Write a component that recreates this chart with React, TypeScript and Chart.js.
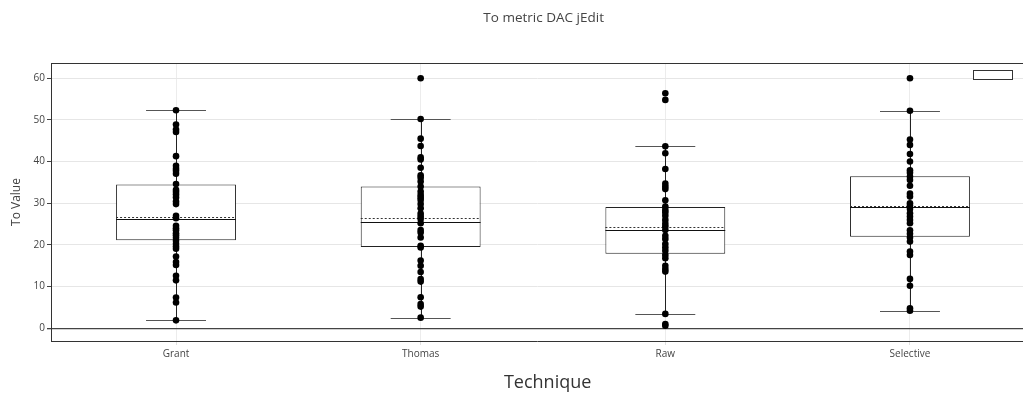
import React, { useEffect, useRef } from 'react';
import { Chart, registerables } from 'chart.js';

Chart.register(...registerables);

// Categories along the x axis
const techniques = ['Grant', 'Thomas', 'Raw', 'Selective'];

// Observed "To" values for each technique
const grantValues = [52.3, 48.9, 47.7, 47.1, 41.3, 39.0, 38.3, 37.8, 37.1, 34.6, 33.2, 32.7, 32.1, 31.4, 30.4, 29.8, 27.0, 26.4, 24.6, 24.0, 23.5, 22.8, 22.3, 21.7, 21.0, 20.3, 19.6, 19.1, 17.2, 15.9, 15.2, 12.6, 11.5, 7.4, 6.2, 1.9];
const thomasValues = [60.0, 50.2, 45.5, 43.75, 41.0, 40.5, 38.5, 36.7, 36.1, 35.2, 34.0, 32.8, 32.0, 31.4, 30.8, 29.8, 28.8, 27.5, 26.8, 26.2, 25.2, 23.6, 23.0, 21.8, 19.8, 19.4, 16.25, 15.0, 13.5, 11.8, 11.2, 7.45, 5.8, 5.2, 2.55];
const rawValues = [56.4, 54.8, 43.65, 42.0, 38.2, 34.7, 34.0, 33.4, 30.7, 29.2, 28.4, 27.8, 27.0, 26.0, 25.1, 24.4, 23.6, 22.2, 21.4, 20.2, 19.4, 18.6, 17.6, 16.8, 15.0, 14.2, 13.6, 3.45, 1.0, 0.6];
const selectiveValues = [60.0, 52.2, 45.3, 44.0, 41.8, 40.0, 37.9, 37.3, 36.4, 35.6, 34.2, 32.3, 31.6, 30.0, 29.4, 28.6, 27.6, 26.8, 26.0, 25.2, 23.5, 22.7, 21.8, 20.8, 18.4, 17.6, 11.85, 10.2, 4.8, 4.2];

// Box statistics per technique
const lowerWhisker = [1.9, 2.55, 3.45, 4.2];
const firstQuartile = [21.15, 19.5, 17.9, 21.95];
const medianValues = [26.2, 25.55, 23.6, 29.0];
const meanValues = [26.75, 26.35, 24.3, 29.3];
const thirdQuartile = [34.5, 34.0, 29.1, 36.45];
const upperWhisker = [52.3, 50.2, 43.65, 52.2];

// Axis ticks
const yTickValues = [0, 10, 20, 30, 40, 50, 60];
const xTickValues = [0, 1, 2, 3];

const chartTitle = 'To metric DAC jEdit';
const xAxisTitle = 'Technique';
const yAxisTitle = 'To Value';

const FONT = '"Open Sans", "Noto Sans", sans-serif';
const INK = '#444';

const allSeries = [grantValues, thomasValues, rawValues, selectiveValues];

// Draws whiskers, medians and means right after the boxes, below the points.
const boxDetailPlugin = {
  id: 'boxDetail',
  afterDatasetDraw(chart: any, args: any) {
    if (args.index !== 0) return;
    const { ctx } = chart;
    const xs = chart.scales.x;
    const ys = chart.scales.y;
    const meta = chart.getDatasetMeta(0);
    ctx.save();
    techniques.forEach((_, i) => {
      const bar = meta.data[i];
      const half = bar.width / 2;
      const cx = xs.getPixelForValue(i);
      const capHalf = half / 2;
      const px = Math.round(cx) + 0.5;
      // whisker stems
      ctx.strokeStyle = '#222';
      ctx.lineWidth = 1;
      ctx.setLineDash([]);
      ctx.beginPath();
      ctx.moveTo(px, ys.getPixelForValue(thirdQuartile[i]));
      ctx.lineTo(px, ys.getPixelForValue(upperWhisker[i]));
      ctx.moveTo(px, ys.getPixelForValue(firstQuartile[i]));
      ctx.lineTo(px, ys.getPixelForValue(lowerWhisker[i]));
      ctx.stroke();
      // whisker caps
      ctx.strokeStyle = '#555';
      ctx.beginPath();
      [upperWhisker[i], lowerWhisker[i]].forEach((v) => {
        const y = Math.round(ys.getPixelForValue(v)) + 0.5;
        ctx.moveTo(cx - capHalf, y);
        ctx.lineTo(cx + capHalf, y);
      });
      ctx.stroke();
      // median
      ctx.strokeStyle = '#111';
      ctx.beginPath();
      const my = Math.round(ys.getPixelForValue(medianValues[i])) + 0.5;
      ctx.moveTo(cx - half, my);
      ctx.lineTo(cx + half, my);
      ctx.stroke();
      // mean (dotted)
      ctx.strokeStyle = '#333';
      ctx.setLineDash([2, 2]);
      ctx.beginPath();
      const mny = Math.round(ys.getPixelForValue(meanValues[i])) + 0.5;
      ctx.moveTo(cx - half, mny);
      ctx.lineTo(cx + half, mny);
      ctx.stroke();
    });
    ctx.restore();
  },
};

// Titles, top frame line and the legend swatch.
const decorPlugin = {
  id: 'decor',
  afterDraw(chart: any) {
    const { ctx, chartArea } = chart;
    const xs = chart.scales.x;
    const domainCenter = (chartArea.left + xs.getPixelForValue(3.5)) / 2;
    ctx.save();
    ctx.fillStyle = INK;
    ctx.textAlign = 'center';
    ctx.textBaseline = 'middle';
    ctx.font = `13.5px ${FONT}`;
    ctx.fillText(chartTitle, domainCenter + 2, 18);
    ctx.font = `18px ${FONT}`;
    ctx.fillStyle = '#333';
    ctx.fillText(xAxisTitle, domainCenter + 6, 383);
    // top frame
    ctx.strokeStyle = '#333';
    ctx.lineWidth = 1;
    ctx.beginPath();
    ctx.moveTo(chartArea.left, Math.round(chartArea.top) + 0.5);
    ctx.lineTo(chartArea.right, Math.round(chartArea.top) + 0.5);
    ctx.stroke();
    // legend swatch
    ctx.fillStyle = '#fff';
    ctx.fillRect(chartArea.right - 50, chartArea.top + 7.5, 39, 9);
    ctx.strokeRect(chartArea.right - 49.5, chartArea.top + 7.5, 39, 9);
    ctx.restore();
  },
};

export default function App() {
  const canvasRef = useRef<HTMLCanvasElement | null>(null);

  useEffect(() => {
    const canvas = canvasRef.current;
    if (!canvas) return;

    const points: { x: number; y: number }[] = [];
    allSeries.forEach((series, i) => series.forEach((v) => points.push({ x: i, y: v })));

    const chart = new Chart(canvas, {
      type: 'bar',
      data: {
        datasets: [
          {
            type: 'bar',
            data: techniques.map((_, i) => ({ x: i, y: [firstQuartile[i], thirdQuartile[i]] })) as any,
            backgroundColor: '#ffffff',
            borderColor: '#222',
            borderWidth: 1,
            borderSkipped: false,
            categoryPercentage: 1,
            barPercentage: 0.49,
            order: 1,
          },
          {
            type: 'scatter',
            data: points as any,
            backgroundColor: '#000',
            borderColor: '#000',
            borderWidth: 0,
            pointRadius: 3.3,
            showLine: false,
            order: 0,
          } as any,
        ],
      },
      options: {
        animation: false,
        responsive: true,
        maintainAspectRatio: false,
        layout: { autoPadding: false, padding: { top: 63, left: 0, right: 0, bottom: 0 } },
        plugins: {
          legend: { display: false },
          tooltip: { enabled: false },
          title: { display: false },
        },
        scales: {
          x: {
            type: 'linear',
            min: -0.511,
            max: 3.462,
            offset: false,
            afterBuildTicks: (scale: any) => {
              scale.ticks = xTickValues.map((v) => ({ value: v }));
            },
            afterFit: (scale: any) => {
              scale.height = 56;
              scale.paddingLeft = 0;
              scale.paddingRight = 0;
            },
            ticks: {
              autoSkip: false,
              maxRotation: 0,
              padding: 3,
              color: INK,
              font: { family: FONT, size: 10 },
              callback: (v: any) => techniques[Number(v)] ?? '',
            },
            grid: {
              offset: false,
              color: '#ececec',
              tickColor: '#e0e0e0',
              tickLength: 4,
              lineWidth: 1,
            },
            border: { display: true, color: '#333', width: 1 },
          },
          y: {
            type: 'linear',
            min: -3.05,
            max: 63.65,
            afterBuildTicks: (scale: any) => {
              scale.ticks = yTickValues.map((v) => ({ value: v }));
            },
            afterFit: (scale: any) => {
              scale.width = 51;
            },
            ticks: {
              padding: 2,
              color: INK,
              font: { family: FONT, size: 10 },
            },
            grid: {
              color: (c: any) => (c.tick && c.tick.value === 0 ? '#444' : '#e6e6e6'),
              lineWidth: (c: any) => (c.tick && c.tick.value === 0 ? 1.3 : 1),
              tickColor: INK,
              tickLength: 4,
            },
            border: { display: true, color: '#333', width: 1 },
            title: {
              display: true,
              text: yAxisTitle,
              color: INK,
              font: { family: FONT, size: 12 },
              padding: { top: 9, bottom: 0 },
            },
          },
        },
      },
      plugins: [boxDetailPlugin, decorPlugin],
    });

    return () => chart.destroy();
  }, []);

  return (
    <div style={{ position: 'fixed', left: 0, top: 0, width: 1023, height: 397, background: '#fff' }}>
      <canvas ref={canvasRef} />
    </div>
  );
}
